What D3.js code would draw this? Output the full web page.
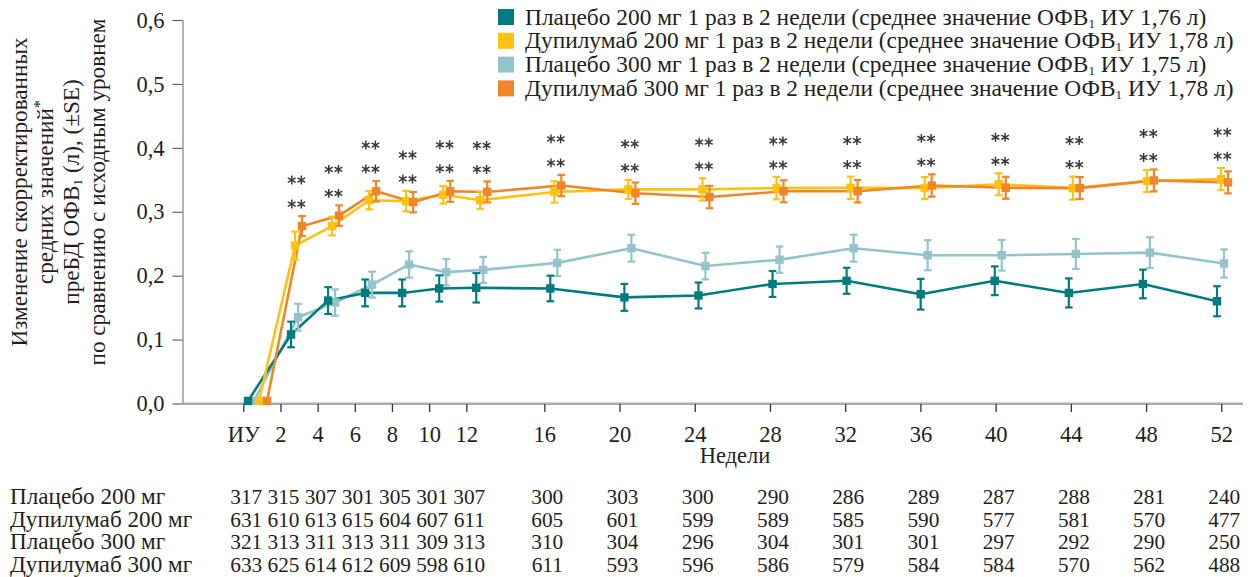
<!DOCTYPE html>
<html><head><meta charset="utf-8">
<script src="https://cdn.jsdelivr.net/npm/d3@7"></script>
<style>
body{margin:0;background:#fff}
svg{display:block}
text{font-family:"Liberation Serif","DejaVu Serif",serif;fill:#231f20}
</style>
</head><body>
<svg id="c" width="1254" height="577"></svg>
<script>
// ---------- data ----------
const weeks = [0,2,4,6,8,10,12,16,20,24,28,32,36,40,44,48,52];
const tickLabels = ["ИУ","2","4","6","8","10","12","16","20","24","28","32","36","40","44","48","52"];

const placebo200   = [0.004,0.108,0.161,0.173,0.173,0.180,0.181,0.180,0.166,0.169,0.187,0.192,0.171,0.192,0.173,0.187,0.160];
const placebo200SE = [0,0.020,0.021,0.021,0.021,0.0205,0.023,0.020,0.021,0.0203,0.0203,0.0203,0.024,0.0225,0.0227,0.0224,0.0235];
const dupi200      = [0.004,0.247,0.2775,0.318,0.3166,0.3265,0.318,0.331,0.335,0.335,0.337,0.3375,0.337,0.343,0.337,0.348,0.351];
const dupi200SE    = [0,0.022,0.0146,0.0143,0.016,0.0138,0.0133,0.0167,0.0149,0.0175,0.0175,0.0175,0.0172,0.0172,0.018,0.0172,0.0172];
const placebo300   = [0.004,0.135,0.158,0.186,0.2175,0.2055,0.209,0.220,0.243,0.215,0.225,0.243,0.232,0.232,0.234,0.236,0.219];
const placebo300SE = [0,0.021,0.0206,0.0203,0.0206,0.0206,0.0203,0.0206,0.021,0.0208,0.0206,0.021,0.0235,0.024,0.0235,0.024,0.022];
const dupi300      = [0.004,0.2775,0.294,0.332,0.315,0.332,0.331,0.341,0.329,0.323,0.332,0.332,0.341,0.3375,0.337,0.349,0.346];
const dupi300SE    = [0,0.0157,0.016,0.016,0.016,0.0164,0.0164,0.0167,0.0167,0.0175,0.0172,0.0175,0.0175,0.0172,0.0172,0.0172,0.0172];

const legendLabels = [
  "Плацебо 200 мг 1 раз в 2 недели (среднее значение ОФВ₁ ИУ 1,76 л)",
  "Дупилумаб 200 мг 1 раз в 2 недели (среднее значение ОФВ₁ ИУ 1,78 л)",
  "Плацебо 300 мг 1 раз в 2 недели (среднее значение ОФВ₁ ИУ 1,75 л)",
  "Дупилумаб 300 мг 1 раз в 2 недели (среднее значение ОФВ₁ ИУ 1,78 л)"
];
const yTicks = [0,0.1,0.2,0.3,0.4,0.5,0.6];
const yLabelLines = ["Изменение скорректированных","средних значений*","преБД ОФВ₁ (л), (±SE)","по сравнению с исходным уровнем"];
const xTitle = "Недели";

const tableLabels = ["Плацебо 200 мг","Дупилумаб 200 мг","Плацебо 300 мг","Дупилумаб 300 мг"];
const nPlacebo200 = [317,315,307,301,305,301,307,300,303,300,290,286,289,287,288,281,240];
const nDupi200    = [631,610,613,615,604,607,611,605,601,599,589,585,590,577,581,570,477];
const nPlacebo300 = [321,313,311,313,311,309,313,310,304,296,304,301,301,297,292,290,250];
const nDupi300    = [633,625,614,612,609,598,610,611,593,596,586,579,584,584,570,562,488];

// ---------- setup ----------
const colors = {p200:"#007b80", d200:"#fdc212", p300:"#93c4ca", d300:"#f1852a"};
const series = [
  {key:"p300", v:placebo300, se:placebo300SE, color:colors.p300, dx:7,  dx0:0},
  {key:"p200", v:placebo200, se:placebo200SE, color:colors.p200, dx:0,  dx0:-6},
  {key:"d200", v:dupi200,    se:dupi200SE,    color:colors.d200, dx:4,  dx0:5},
  {key:"d300", v:dupi300,    se:dupi300SE,    color:colors.d300, dx:11, dx0:13}
];
const legendOrder = [colors.p200, colors.d200, colors.p300, colors.d300];

const svg = d3.select("#c");
const xTick = d3.scaleLinear().domain([0,12,16,52]).range([243.3,466.3,544.3,1221.3]);
const xData = d3.scaleLinear().domain([0,52]).range([254,1217]);
const y = d3.scaleLinear().domain([0,0.6]).range([403.5,20]);
const FS = 22.5;   // axis text
const LFS = 23.4;  // legend
const TFS = 23.2;  // table row labels
const NFS = 21.3;  // table numbers
const YFS = 23.2;  // y label

function richText(sel, str, subSize){
  let pend = 0;
  str.split(/([₁*])/).forEach(p=>{
    if(!p) return;
    if(p==="₁"){ sel.append("tspan").attr("font-size",subSize).attr("dy",pend+3).text("1"); pend=-3; }
    else if(p==="*"){ sel.append("tspan").attr("font-size",subSize+3).attr("dy",pend-8).text("*"); pend=8; }
    else { sel.append("tspan").attr("dy",pend).text(p); pend=0; }
  });
}
const px = (s,i)=> xData(weeks[i]) + (weeks[i]===0 ? s.dx0 : s.dx);

// y axis
const yAx = svg.append("g").attr("transform","translate(182.5,0)")
  .call(d3.axisLeft(y).tickValues(yTicks).tickSize(10).tickSizeOuter(0).tickPadding(8)
    .tickFormat(d=>d3.format(".1f")(d).replace(".",",")));
yAx.select(".domain").attr("stroke","#8a8a8a").attr("stroke-width",1.3);
yAx.selectAll(".tick line").attr("stroke","#555").attr("stroke-width",1.1);
yAx.selectAll(".tick text").attr("font-size",FS).attr("font-family","Liberation Serif, serif").attr("fill","#231f20");

// x axis
svg.append("line").attr("x1",182).attr("x2",1243).attr("y1",403.8).attr("y2",403.8)
  .attr("stroke","#ababab").attr("stroke-width",2.6);
const xAx = svg.append("g").attr("transform","translate(0,404)")
  .call(d3.axisBottom(xTick).tickValues(weeks).tickSize(8).tickPadding(14)
    .tickFormat((d,i)=>tickLabels[i]));
xAx.select(".domain").remove();
xAx.selectAll(".tick line").attr("stroke","#333").attr("stroke-width",1.3);
xAx.selectAll(".tick text").attr("font-size",FS).attr("font-family","Liberation Serif, serif").attr("fill","#231f20");

svg.append("text").attr("x",735).attr("y",463).attr("text-anchor","middle").attr("font-size",FS).text(xTitle);

// y label
const yl = svg.append("g").attr("transform","translate(0,192) rotate(-90)");
yLabelLines.forEach((ln,i)=>{
  const t = yl.append("text").attr("x",0).attr("y",27+i*26).attr("text-anchor","middle").attr("font-size",YFS);
  richText(t, ln, 13.5);
});

// lines
const line = d3.line();
series.forEach(s=>{
  const pts = weeks.map((w,i)=>[px(s,i), y(s.v[i])]);
  svg.append("path").attr("d",line(pts)).attr("fill","none").attr("stroke",s.color)
    .attr("stroke-width",2.6).attr("stroke-linejoin","round");
});
// error bars + markers
series.forEach(s=>{
  const g = svg.append("g");
  weeks.forEach((w,i)=>{
    const cx = px(s,i);
    if(s.se[i]>0){
      const y1=y(s.v[i]-s.se[i]), y2=y(s.v[i]+s.se[i]);
      g.append("line").attr("x1",cx).attr("x2",cx).attr("y1",y1).attr("y2",y2).attr("stroke",s.color).attr("stroke-width",2.2);
      [y1,y2].forEach(yy=>g.append("line").attr("x1",cx-3.8).attr("x2",cx+3.8).attr("y1",yy).attr("y2",yy).attr("stroke",s.color).attr("stroke-width",2.2));
    }
    g.append("rect").attr("x",cx-4.2).attr("y",y(s.v[i])-4.2).attr("width",8.4).attr("height",8.4).attr("fill",s.color);
  });
});

// significance stars
const star = d3.symbol().type(d3.symbolAsterisk).size(56);
weeks.forEach((w,i)=>{
  if(w===0) return;
  const top = d3.max(series, s=>s.v[i]+s.se[i]);
  const cx = xData(w)+5.5;
  const yLow = y(top)-12;
  [yLow, yLow-24].forEach(yy=>{
    [-4.8,4.8].forEach(dx=>{
      svg.append("path").attr("d",star()).attr("transform",`translate(${cx+dx},${yy})`)
        .attr("fill","none").attr("stroke","#3a3a3a").attr("stroke-width",1.5);
    });
  });
});

// legend
legendLabels.forEach((lab,i)=>{
  const cy = 17+i*23.8;
  svg.append("rect").attr("x",498).attr("y",cy-8).attr("width",16).attr("height",16).attr("fill",legendOrder[i]);
  const t = svg.append("text").attr("x",525).attr("y",cy+7.5).attr("font-size",LFS);
  richText(t, lab, 13);
});

// table
const tableRows = [nPlacebo200,nDupi200,nPlacebo300,nDupi300];
tableRows.forEach((row,r)=>{
  const yy = 504+r*22.5;
  svg.append("text").attr("x",10).attr("y",yy).attr("font-size",TFS).text(tableLabels[r]);
  row.forEach((n,i)=>{
    svg.append("text").attr("x",xTick(weeks[i])+3).attr("y",yy).attr("text-anchor","middle").attr("font-size",NFS).text(n);
  });
});
</script>
</body></html>
